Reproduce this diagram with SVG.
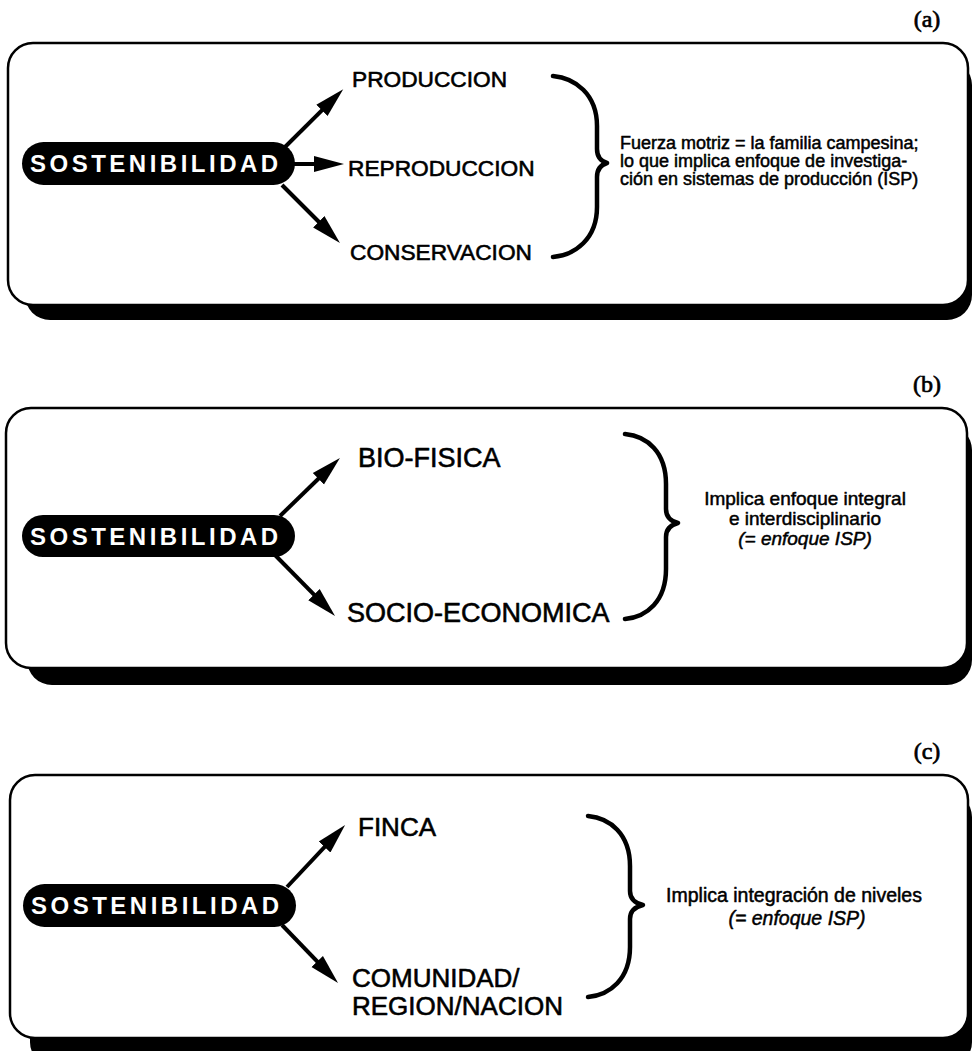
<svg xmlns="http://www.w3.org/2000/svg" width="977" height="1051" viewBox="0 0 977 1051">
<defs>
<style>
.shadow{fill:#000}
.box{fill:#fff;stroke:#000;stroke-width:2.5}
.pill{fill:#000}
.pilltxt{font-family:"Liberation Sans",Arial,sans-serif;font-weight:bold;font-size:24px;letter-spacing:3.5px;fill:#fff}
.lbl{font-family:"Liberation Sans",Arial,sans-serif;fill:#000;stroke:#000;stroke-width:0.6px;stroke-linejoin:round}
.note{font-family:"Liberation Sans",Arial,sans-serif;fill:#000;stroke:#000;stroke-width:0.5px;stroke-linejoin:round}
.tag{font-family:"Liberation Serif","Times New Roman",serif;font-size:24px;fill:#000;stroke:#000;stroke-width:0.7px;text-anchor:middle}
.arr{stroke:#000;stroke-width:4;fill:none;marker-end:url(#ah)}
.brace{fill:none;stroke:#000;stroke-width:4.5;stroke-linecap:round;stroke-linejoin:round}
</style>
<marker id="ah" markerUnits="userSpaceOnUse" markerWidth="32" markerHeight="18" refX="18" refY="9" orient="auto" viewBox="0 0 32 18">
<path d="M0,1 L30,9 L0,17 Z" fill="#000"/>
</marker>
</defs>

<!-- Panel (a) -->
<g id="panel-a">
<text class="tag" x="927" y="27">(a)</text>
<rect class="shadow" x="25" y="60" width="947" height="260" rx="25"/>
<rect class="box" x="8" y="43" width="960" height="262" rx="25"/>
</g>
<g id="node-a-sost">
<rect class="pill" x="22" y="142" width="273" height="43" rx="21.5"/>
<text class="pilltxt" x="30" y="172">SOSTENIBILIDAD</text>
</g>
<g id="node-a-prod"><text class="lbl" x="352" y="87" font-size="22.7">PRODUCCION</text></g>
<g id="node-a-repr"><text class="lbl" x="348" y="176" font-size="22.7">REPRODUCCION</text></g>
<g id="node-a-cons"><text class="lbl" x="350" y="260" font-size="22.7">CONSERVACION</text></g>
<g id="node-a-note" font-size="18">
<text class="note" x="620" y="149">Fuerza motriz = la familia campesina;</text>
<text class="note" x="620" y="167">lo que implica enfoque de investiga-</text>
<text class="note" x="620" y="185">ción en sistemas de producción (ISP)</text>
</g>

<!-- Panel (b) -->
<g id="panel-b">
<text class="tag" x="927" y="392">(b)</text>
<rect class="shadow" x="27" y="425" width="945" height="260" rx="25"/>
<rect class="box" x="6" y="408" width="961" height="260" rx="25"/>
</g>
<g id="node-b-sost">
<rect class="pill" x="22" y="515" width="273" height="42" rx="21"/>
<text class="pilltxt" x="30" y="545">SOSTENIBILIDAD</text>
</g>
<g id="node-b-bio"><text class="lbl" x="358" y="467" font-size="27">BIO-FISICA</text></g>
<g id="node-b-socio"><text class="lbl" x="347" y="622" font-size="27">SOCIO-ECONOMICA</text></g>
<g id="node-b-note" text-anchor="middle" font-size="19">
<text class="note" x="805" y="505">Implica enfoque integral</text>
<text class="note" x="805" y="525">e interdisciplinario</text>
<text class="note" x="805" y="545" font-style="italic">(= enfoque ISP)</text>
</g>

<!-- Panel (c) -->
<g id="panel-c">
<text class="tag" x="927" y="759">(c)</text>
<rect class="shadow" x="30" y="792" width="942" height="275" rx="25"/>
<rect class="box" x="10" y="775" width="958" height="263" rx="25"/>
</g>
<g id="node-c-sost">
<rect class="pill" x="23" y="884" width="273" height="43" rx="21.5"/>
<text class="pilltxt" x="31" y="914">SOSTENIBILIDAD</text>
</g>
<g id="node-c-finca"><text class="lbl" x="358" y="836" font-size="26">FINCA</text></g>
<g id="node-c-com">
<text class="lbl" x="352" y="987" font-size="26">COMUNIDAD/</text>
<text class="lbl" x="352" y="1015" font-size="26">REGION/NACION</text>
</g>
<g id="node-c-note" text-anchor="middle" font-size="19.5">
<text class="note" x="794" y="902">Implica integración de niveles</text>
<text class="note" x="797" y="925" font-style="italic">(= enfoque ISP)</text>
</g>

<!-- Connectors -->
<g id="connectors">
<path class="arr" d="M285,147 L334.7,97.7"/>
<path class="arr" d="M293,164 L332,164"/>
<path class="arr" d="M282,185 L331.5,234.5"/>
<path class="arr" d="M280,516 L331.3,466.3"/>
<path class="arr" d="M275,555 L326.6,607.4"/>
<path class="arr" d="M287,887 L336.9,833.8"/>
<path class="arr" d="M282,925 L329.7,974.4"/>
<path class="brace" d="M553,76 C575,78 597,94 597,126 L597,149 Q597,160 607,163 Q597,166 597,177 L597,207 C597,239 575,255 553,257"/>
<path class="brace" d="M625,434 C647,436 666,452 666,484 L666,509 Q666,520 678,523 Q666,526 666,537 L666,569 C666,601 647,617 625,619"/>
<path class="brace" d="M588,816 C610,818 630,834 630,866 L630,891 Q630,902 643,905 Q630,908 630,919 L630,947 C630,979 610,995 588,997"/>
</g>
</svg>
